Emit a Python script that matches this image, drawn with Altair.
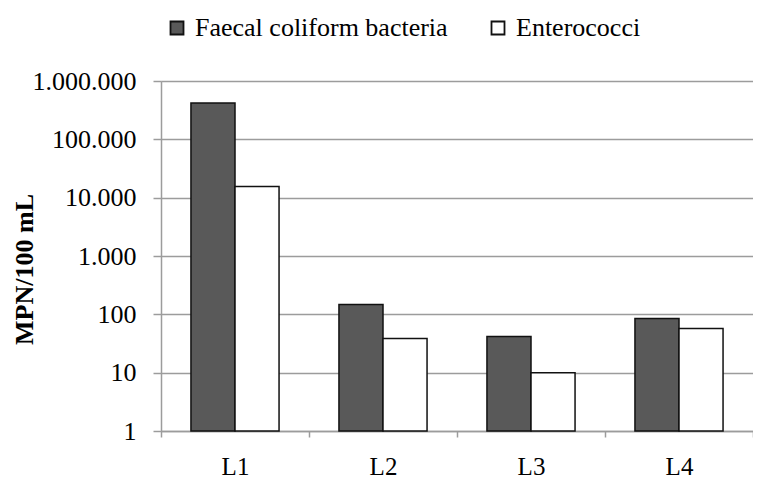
import altair as alt
import pandas as pd

sites = ["L1", "L2", "L3", "L4"]
series = ["Faecal coliform bacteria", "Enterococci"]
faecal = [420000, 148, 41.7, 84.5]
entero = [15500, 38.5, 10, 57]
y_ticks = [1, 10, 100, 1000, 10000, 100000, 1000000]

rows = []
for s, f, e in zip(sites, faecal, entero):
    rows.append({"site": s, "series": series[0], "value": f})
    rows.append({"site": s, "series": series[1], "value": e})
df = pd.DataFrame(rows)

W, H = 592, 350
FONT = "Liberation Serif, Times New Roman, serif"
GRID = "#9c9c9c"
FS = 26

chart = alt.Chart(df).mark_bar(stroke="#111111", strokeWidth=1.5).encode(
    x=alt.X("site:N", sort=sites, title=None,
            scale=alt.Scale(paddingInner=0, paddingOuter=0),
            axis=alt.Axis(labelAngle=0, tickBand="extent", domainColor=GRID, tickColor=GRID,
                          tickSize=6, tickWidth=1.5, domainWidth=1.5, labelPadding=17,
                          labelFont=FONT, labelFontSize=25, labelColor="#000000")),
    xOffset=alt.XOffset("series:N", sort=series,
                        scale=alt.Scale(paddingInner=0, paddingOuter=0.68)),
    y=alt.Y("value:Q", title="MPN/100 mL",
            scale=alt.Scale(type="log", domain=[1, 1000000]),
            axis=alt.Axis(values=y_ticks,
                          labelExpr="replace(format(datum.value, ','), regexp(',', 'g'), '.')",
                          grid=True, gridColor=GRID, gridWidth=1.5,
                          domainColor=GRID, domainWidth=1.5, tickColor=GRID, tickWidth=1.5,
                          tickSize=8, labelPadding=17,
                          labelFont=FONT, labelFontSize=FS, labelColor="#000000",
                          titleFont=FONT, titleFontSize=26, titleFontWeight="bold",
                          titleColor="#000000", titleX=-137, titleY=188,
                          titleBaseline="middle", titleAlign="center")),
    y2=alt.datum(1),
    fill=alt.Fill("series:N", sort=series, title=None,
                  scale=alt.Scale(domain=series, range=["#595959", "#ffffff"]),
                  legend=alt.Legend(orient="none", legendX=3, legendY=-66,
                                    direction="horizontal", symbolType="square",
                                    symbolSize=169, symbolStrokeColor="#111111",
                                    symbolStrokeWidth=1.8, columnPadding=37,
                                    labelOffset=5, labelFont=FONT, labelFontSize=FS,
                                    labelColor="#000000", labelLimit=400)),
).properties(
    width=W, height=H,
    autosize=alt.AutoSizeParams(type="none"),
    padding={"left": 153, "top": 73, "right": 0, "bottom": 51},
).configure_view(stroke=None).configure(background="#ffffff")

chart.save("out.html", embed_options={"renderer": "svg", "actions": False})
